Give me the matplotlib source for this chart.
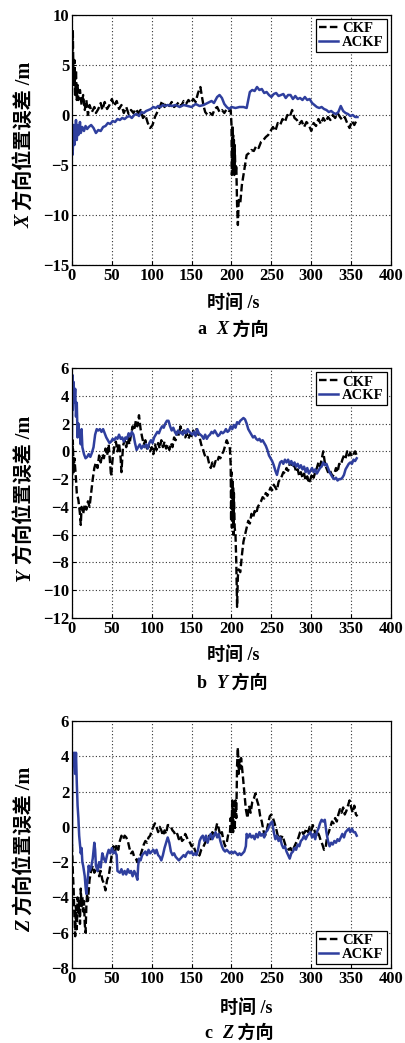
import matplotlib.pyplot as plt

plt.rcParams['font.family'] = ['Liberation Serif', 'Noto Sans CJK SC']

# ---------------------------------------------------------------------------
# data: (time [s], error [m])
# ---------------------------------------------------------------------------
x_ckf = [(0, 2), (1, 8.5), (2, 3), (3, 5.5), (4, 2), (5, 4.5), (6, 1.5), (7, 3), (8, 1.5), (10, 2.5),
         (12, 1), (14, 2), (16, 0.5), (18, 1.5), (20, 0), (22, 1), (25, 0.3), (28, 0.8), (30, 0.2), (33, 0.6),
         (36, 1.2), (38, 0.5), (41, 1.3), (44, 0.6), (47, 1), (50, 1.6), (53, 0.9), (56, 1.4), (59, 0.6), (62, 1),
         (65, 0.2), (68, 0.8), (71, 0.1), (74, 0.5), (77, 0.2), (80, 0.6), (83, 0.2), (86, 0.5), (89, -0.3), (92, 0),
         (95, -0.8), (98, -1.3), (101, -1), (104, -0.2), (107, 0.3), (110, 0.8), (113, 1.4), (116, 0.8), (119, 1.2),
         (122, 0.9), (125, 1.3), (128, 0.8), (131, 1), (134, 1.3), (137, 0.9), (140, 1.4), (143, 1.1), (146, 1.5),
         (149, 1.2), (152, 1.6), (155, 1.3), (158, 2.2), (161, 2.8), (163, 1.8), (165, 0.9), (167, 0.3), (170, 0),
         (173, 0.2), (176, 0), (179, 0.6), (182, 0.8), (185, 0.3), (188, 0.5), (191, 0.2), (194, 0.6), (197, 0.4),
         (199, 0.5), (200, -1), (200.5, -6), (201, -1), (201.5, -5.5), (202, -2), (202.5, -6), (203, -2.5),
         (203.5, -6), (204, -3), (205, -6), (206, -5), (207, -9), (208, -11), (209, -8.5), (211, -8.8), (213, -7),
         (215, -6), (217, -5), (219, -4), (222, -3.8), (225, -3.5), (228, -3.6), (231, -3.1), (234, -3.3),
         (237, -2.7), (240, -2.5), (243, -2.2), (246, -2), (249, -1.6), (252, -1.2), (255, -1.6), (258, -0.8),
         (261, -1), (264, -0.4), (267, -0.7), (270, 0), (273, -0.2), (276, 0.5), (279, -0.3), (282, -0.5),
         (285, -0.9), (288, -0.6), (291, -1.2), (294, -0.7), (297, -1), (300, -1.6), (303, -0.8), (306, -1.1),
         (309, -0.4), (312, -0.9), (315, -0.3), (318, -0.7), (321, -0.2), (324, -0.5), (327, 0), (330, -0.3),
         (333, 0.2), (336, -0.2), (339, -0.5), (342, -0.2), (345, -0.8), (348, -1.3), (351, -0.6), (354, -1),
         (357, -0.5)]

x_ackf = [(0, -1), (0.5, -4), (1, -3.5), (2, -1), (3, -3), (4, -2), (5, -0.5), (6, -2.5), (7, -1), (8, -2),
          (9, -1.5), (10, -0.7), (11, -1.8), (13, -1.2), (15, -1.6), (17, -1.1), (19, -1.4), (21, -1.2), (24, -1),
          (27, -1.3), (30, -1.8), (33, -1.5), (36, -1.6), (39, -1.2), (42, -1.1), (45, -0.8), (48, -0.9),
          (51, -0.6), (54, -0.7), (57, -0.4), (60, -0.5), (63, -0.3), (66, -0.4), (69, -0.2), (72, -0.1),
          (75, -0.3), (78, 0), (81, 0.1), (84, -0.1), (87, 0.3), (90, 0.2), (93, 0.4), (96, 0.5), (99, 0.6),
          (102, 0.8), (105, 0.7), (108, 0.9), (111, 0.8), (114, 1), (117, 0.9), (120, 1), (125, 0.9), (130, 1),
          (135, 0.8), (140, 1), (145, 0.9), (150, 0.8), (155, 1.1), (160, 0.9), (165, 1), (170, 1.2), (175, 1.4),
          (178, 1.2), (182, 1.8), (185, 2), (188, 1.7), (191, 1.1), (194, 0.8), (197, 0.6), (200, 0.8),
          (205, 0.7), (210, 0.8), (215, 0.8), (219, 0.7), (221, 1.5), (223, 2.3), (226, 2.5), (229, 2.4),
          (232, 2.8), (235, 2.5), (238, 2.6), (241, 2.2), (244, 2.3), (247, 2), (250, 1.8), (253, 2.1),
          (256, 2.2), (259, 1.9), (262, 2), (265, 2.1), (268, 1.7), (271, 2), (274, 2), (277, 1.6), (280, 1.9),
          (283, 1.6), (286, 1.7), (289, 1.5), (292, 1.8), (295, 1.5), (298, 1.6), (301, 1.2), (304, 1),
          (307, 0.8), (310, 0.7), (313, 0.8), (316, 0.6), (319, 0.5), (322, 0.3), (325, 0.4), (328, 0.2),
          (331, 0.1), (334, 0.3), (337, 0.9), (340, 0.4), (343, 0.2), (346, 0.1), (349, -0.1), (352, 0),
          (355, -0.2), (358, -0.2)]

y_ckf = [(0, -2.5), (1, 0.8), (2, -1.5), (3, -0.5), (4, -1.2), (5, -2), (6, -3), (8, -3.5), (10, -4.5),
         (11, -5.3), (12, -4), (14, -4.5), (16, -3.8), (18, -4.2), (20, -3.6), (22, -4), (24, -3), (26, -2),
         (28, -1.2), (30, -0.8), (32, -1.2), (34, -0.3), (36, -0.8), (38, -0.2), (40, -0.5), (42, 0.2),
         (44, -0.3), (46, 0.5), (48, -1), (49, -1.8), (51, -0.5), (53, 0.3), (55, 0.7), (57, 0), (59, 0.6),
         (61, -0.5), (62, -1.5), (64, 0.4), (66, 0.8), (68, 0.3), (70, 1), (72, 0.5), (74, 1.2), (76, 1.8),
         (78, 1.5), (80, 2.2), (82, 1.8), (84, 2.6), (86, 1.6), (88, 1), (90, 0.5), (92, 0.8), (94, 0.2),
         (96, 0.4), (98, 0), (100, 0.3), (102, -0.2), (104, 0.5), (106, 0.1), (108, 0.6), (110, 0.2), (112, 0.8),
         (114, 0.3), (116, 0.7), (118, 0.2), (120, 0.5), (122, 0.1), (124, 0.6), (126, 0.3), (128, 1), (130, 0.8),
         (132, 1.4), (134, 1.2), (136, 1.8), (138, 1.3), (140, 1.5), (142, 1), (144, 1.3), (146, 0.9), (148, 1.2),
         (150, 1.1), (152, 1.5), (154, 1.2), (156, 1.6), (158, 1.3), (160, 1), (162, 0.5), (164, 0.2),
         (166, -0.2), (168, -0.5), (170, -0.4), (172, -0.9), (174, -1.2), (176, -0.8), (178, -1.1), (180, -0.7),
         (182, -0.8), (184, -0.4), (186, -0.5), (188, -0.2), (190, 0), (192, 0.4), (194, 0.8), (196, 0.5),
         (198, 0.2), (199, -1), (199.5, -5), (200, -1.5), (200.5, -5.5), (201, -2), (201.5, -5), (202, -2.5),
         (202.5, -6), (203, -3), (204, -5.5), (205, -6), (206, -8), (207, -11.2), (208, -9), (209, -8.5),
         (211, -8.7), (213, -7.5), (215, -6.5), (217, -6), (219, -5.5), (221, -5), (223, -5.2), (225, -4.5),
         (227, -4.8), (229, -4.3), (231, -4.5), (233, -4), (235, -3.8), (237, -3.6), (239, -3.3), (241, -3.4),
         (243, -3), (245, -3.2), (247, -2.9), (249, -2.6), (251, -2.8), (253, -2.4), (255, -2.6), (257, -2.8),
         (259, -2.2), (261, -2), (263, -1.8), (265, -1.5), (267, -1.6), (269, -1.2), (271, -1.4), (273, -0.9),
         (275, -0.8), (277, -1.2), (279, -1), (281, -1.5), (283, -1.3), (285, -1.8), (287, -1.5), (289, -1.9),
         (291, -1.6), (293, -2.1), (295, -1.8), (297, -2.3), (299, -2), (301, -1.6), (303, -1.9), (305, -1.5),
         (307, -1.2), (309, -0.8), (311, -1.1), (313, -0.6), (315, 0), (317, -0.8), (319, -1.2), (321, -1.5),
         (323, -1.3), (325, -1.6), (327, -1.8), (329, -1.6), (331, -1.2), (333, -1.5), (335, -0.9), (337, -1),
         (339, -0.6), (341, -0.3), (343, -0.5), (345, 0), (347, -0.3), (349, -0.1), (351, -0.4), (353, -0.2),
         (355, 0), (357, -0.3)]

y_ackf = [(0, 1), (0.5, 5.5), (1, 3), (2, 5), (3, 3.5), (4, 4.5), (5, 2.5), (6, 3.5), (7, 1), (8, 2),
          (9, 1.2), (10, 1.5), (11, 0.5), (12, 1.6), (13, 0.3), (15, -0.2), (17, -0.5), (19, -0.4), (21, -0.2),
          (23, -0.4), (25, -0.1), (27, 0.3), (29, 1.2), (31, 1.6), (33, 1.5), (35, 1.6), (37, 1.4), (39, 1.6),
          (41, 1.3), (43, 1), (45, 0.8), (47, 0.6), (49, 0.7), (51, 0.9), (53, 0.8), (55, 1), (57, 0.9),
          (59, 1.2), (61, 0.9), (63, 1), (65, 0.7), (67, 1), (69, 0.9), (71, 1.3), (73, 1.1), (75, 1.4),
          (77, 1.2), (79, 0.6), (81, 0.1), (83, 0.3), (85, 0.5), (87, 0.2), (89, 0.4), (91, 0.3), (93, 0.5),
          (95, 0.2), (97, 0.6), (99, 0.8), (101, 0.6), (103, 1), (105, 1.2), (107, 1.4), (109, 1.3), (111, 1.6),
          (113, 1.8), (115, 1.7), (117, 2), (119, 2.2), (121, 2.2), (123, 1.8), (125, 1.5), (127, 1.7),
          (129, 1.4), (131, 1.2), (133, 1.5), (135, 1.3), (137, 1.4), (139, 1.2), (141, 1.5), (143, 1.3),
          (145, 1.6), (147, 1.4), (149, 1.3), (151, 1.2), (153, 1.4), (155, 1.1), (157, 1.6), (159, 1.3),
          (161, 1.2), (163, 1.1), (165, 0.9), (167, 1.2), (169, 0.9), (171, 1.1), (173, 1.2), (175, 1.4),
          (177, 1.3), (179, 1.5), (181, 1.3), (183, 1.1), (185, 1.2), (187, 1.4), (189, 1.3), (191, 1.4),
          (193, 1.6), (195, 1.4), (197, 1.5), (199, 1.8), (201, 1.6), (203, 1.9), (205, 1.7), (207, 2.1),
          (209, 2), (211, 2.2), (213, 2.3), (215, 2.4), (217, 2.3), (219, 2), (221, 1.6), (223, 1.4), (225, 1.2),
          (227, 1.0), (229, 1.1), (231, 0.9), (233, 0.8), (235, 0.9), (237, 0.7), (239, 0.8), (241, 0.6),
          (243, 0.4), (245, 0.1), (247, -0.3), (249, -0.5), (251, -0.7), (253, -1), (255, -1.4), (257, -1.7),
          (259, -1.2), (261, -0.8), (263, -0.7), (265, -0.9), (267, -0.6), (269, -0.8), (271, -0.6), (273, -0.9),
          (275, -0.7), (277, -1), (279, -0.8), (281, -1.1), (283, -0.9), (285, -1.2), (287, -1), (289, -1.3),
          (291, -1.1), (293, -1.5), (295, -1.2), (297, -1.6), (299, -1.4), (301, -1.2), (303, -1.5), (305, -1.3),
          (307, -1.6), (309, -1.4), (311, -1.2), (313, -1.1), (315, -0.8), (317, -1), (319, -0.9), (321, -1.2),
          (323, -1.5), (325, -1.7), (327, -1.9), (329, -2), (331, -1.9), (333, -2.1), (335, -2), (337, -2),
          (339, -1.9), (341, -1.7), (343, -1.3), (345, -1.1), (347, -0.9), (349, -0.8), (351, -0.9), (353, -0.6),
          (355, -0.7), (357, -0.5)]

z_ckf = [(0, -1), (1, -2.5), (2, -3.5), (3, -5), (4, -6.2), (5, -4.5), (6, -5.8), (7, -4), (8, -5), (9, -4.2),
         (10, -5.5), (11, -3.5), (12, -4.5), (13, -4), (14, -4.8), (15, -4.2), (16, -5.5), (17, -6), (18, -4.5),
         (19, -3.8), (20, -4.2), (22, -3), (24, -2.5), (26, -2.2), (28, -2.6), (30, -2.4), (32, -2.2),
         (34, -2.8), (36, -2.5), (38, -3), (40, -3.2), (42, -3.6), (44, -3), (46, -2.8), (48, -2.2), (50, -1.5),
         (52, -1.1), (54, -1.4), (56, -1), (58, -1.3), (60, -0.8), (62, -0.5), (64, -0.7), (66, -0.5),
         (68, -0.6), (70, -0.8), (72, -1.2), (74, -1.5), (76, -1.4), (78, -1.7), (80, -1.8), (82, -2),
         (84, -1.7), (86, -1.6), (88, -1.3), (90, -1), (92, -0.8), (94, -0.9), (96, -0.6), (98, -0.5),
         (100, -0.2), (102, 0), (104, 0.2), (106, 0), (108, -0.3), (110, 0), (112, -0.2), (114, -0.5),
         (116, -0.2), (118, -0.4), (120, 0.1), (122, 0.1), (124, 0), (126, -0.2), (128, -0.3), (130, -0.5),
         (132, -0.4), (134, -0.7), (136, -0.5), (138, -0.8), (140, -0.7), (142, -0.4), (144, -0.6), (146, -0.8),
         (148, -0.9), (150, -1.1), (152, -1), (154, -1.3), (156, -1.5), (158, -1.7), (160, -1.6), (162, -1.3),
         (164, -1.2), (166, -1), (168, -0.8), (170, -0.7), (172, -0.5), (174, -0.7), (176, -0.3), (178, -0.5),
         (180, -0.2), (182, 0.2), (184, -0.1), (186, -0.5), (188, -0.3), (190, -0.8), (192, -1.1), (194, -0.9),
         (196, -0.4), (198, -0.4), (199, 0.5), (200, -0.3), (201, 1.5), (202, -0.3), (203, 1.4), (204, -0.2),
         (205, 1.5), (206, 0.5), (207, 3.5), (208, 4.5), (209, 3), (210, 3.8), (211, 3.3), (212, 3.9), (214, 3),
         (216, 2), (218, 1), (220, 0.5), (222, 1.2), (224, 0.8), (226, 1.4), (228, 1.6), (230, 1.9), (232, 1.5),
         (234, 1.2), (236, 0.6), (238, 0.3), (240, -0.2), (242, -0.5), (244, -0.3), (246, 0.2), (248, 0.6),
         (250, 0.7), (252, 0.5), (254, 0.2), (256, -0.1), (258, -0.5), (260, -0.4), (262, -0.7), (264, -0.5),
         (266, -0.8), (268, -1.1), (270, -1.2), (272, -1.3), (274, -1.2), (276, -1.4), (278, -1.2), (280, -1),
         (282, -0.8), (284, -0.6), (286, -0.3), (288, -0.2), (290, -0.4), (292, -0.3), (294, -0.1), (296, -0.3),
         (298, 0), (300, -0.2), (302, 0.1), (304, -0.2), (306, -0.5), (308, -0.3), (310, -0.5), (312, -0.8),
         (314, -1), (316, -1.3), (318, -1.2), (320, -0.5), (322, -0.3), (324, 0), (326, 0.3), (328, 0.2),
         (330, 0.5), (332, 0.3), (334, 0.7), (336, 1), (338, 0.8), (340, 1.1), (342, 0.7), (344, 0.9),
         (346, 1.2), (348, 1.5), (350, 1.1), (352, 0.8), (354, 1.2), (356, 0.7), (358, 0.6)]

z_ackf = [(0, -1), (0.5, 3.5), (1, 4.2), (2, 3.5), (3, 4.2), (4, 3), (5, 4.2), (6, 2.5), (7, 1.2), (8, 0.5),
          (9, -0.5), (10, -1), (11, -1.5), (12, -1.2), (13, -2), (14, -2.2), (15, -2.5), (16, -2.8), (17, -3.4),
          (18, -3.8), (19, -3.2), (20, -2.8), (21, -2.2), (22, -2.5), (24, -2.3), (26, -1.8), (28, -0.9),
          (29, -1.3), (30, -2.2), (32, -2.5), (34, -2), (36, -2.3), (38, -1.5), (40, -1.8), (42, -2), (44, -1.6),
          (46, -1.3), (48, -1.5), (50, -1.2), (52, -1.5), (54, -1.4), (56, -1.6), (57, -2.5), (60, -2.6),
          (62, -2.4), (64, -2.7), (66, -2.5), (68, -2.7), (70, -2.4), (72, -2.6), (74, -2.5), (76, -2.8),
          (78, -2.5), (80, -2.7), (82, -3), (83, -2.2), (84, -1.8), (86, -1.9), (88, -1.6), (90, -1.5),
          (92, -1.4), (94, -1.6), (96, -1.3), (98, -1.5), (100, -1.4), (102, -1.3), (104, -1.5), (106, -1.3),
          (108, -1.6), (110, -1.7), (112, -1.9), (114, -1.6), (116, -1.2), (118, -0.9), (120, -0.6), (122, -0.9),
          (124, -1.4), (126, -1.6), (128, -1.5), (130, -1.7), (132, -1.8), (134, -1.9), (136, -1.8), (138, -1.7),
          (140, -1.6), (142, -1.7), (144, -1.5), (146, -1.4), (148, -1.5), (150, -1.4), (152, -1.6), (154, -1.5),
          (156, -1.6), (158, -1.3), (160, -0.8), (162, -0.6), (164, -0.5), (166, -0.8), (168, -0.5), (170, -0.9),
          (172, -0.6), (174, -0.4), (176, -0.7), (178, -0.5), (180, -0.3), (182, -0.6), (184, -0.4), (186, -0.8),
          (188, -1.1), (190, -1.3), (192, -1.4), (194, -1.3), (196, -1.4), (198, -1.5), (200, -1.4), (202, -1.5),
          (204, -1.4), (206, -1.5), (208, -1.6), (210, -1.5), (212, -1.6), (214, -1.5), (216, -1.4), (218, -1.1),
          (219, -0.4), (221, -0.6), (223, -0.4), (225, -0.6), (227, -0.5), (229, -0.7), (231, -0.4), (233, -0.6),
          (235, -0.3), (237, -0.5), (239, -0.4), (241, -0.6), (243, -0.3), (245, -0.2), (247, 0), (249, 0.2),
          (251, 0.3), (253, -0.3), (255, -0.7), (257, -0.5), (259, -0.8), (261, -0.6), (263, -1), (265, -1.2),
          (267, -1.1), (269, -1.4), (271, -1.6), (273, -1.8), (275, -1.5), (277, -1.4), (279, -1.2), (281, -1.3),
          (283, -1), (285, -1.1), (287, -0.8), (289, -0.7), (291, -0.5), (293, -0.7), (295, -0.5), (297, -0.4),
          (299, -0.3), (301, -0.6), (303, -0.4), (305, -0.7), (307, -0.3), (309, -0.1), (311, 0.2), (313, 0.4),
          (315, 0.3), (317, 0.4), (319, -0.3), (321, -0.8), (323, -1.1), (325, -0.9), (327, -1), (329, -0.8),
          (331, -0.9), (333, -0.7), (335, -0.8), (337, -0.6), (339, -0.4), (341, -0.6), (343, -0.3), (345, -0.2),
          (347, -0.1), (349, -0.3), (351, -0.1), (353, -0.3), (355, -0.3), (357, -0.5)]

axis_names = ['X', 'Y', 'Z']
captions = ['a', 'b', 'c']
y_limits = [(-15, 10), (-12, 6), (-8, 6)]
y_steps = [5, 2, 2]
legend_locs = ['upper right', 'upper right', 'lower right']
x_ticks = [0, 50, 100, 150, 200, 250, 300, 350, 400]

BLUE = '#2f3f9e'
H = 1043.0
W = 406.0
# layout in pixels of the reference
boxes = [(15, 265), (368, 618), (721, 968)]     # axes top, bottom
xlabel_pos = [(233, 303), (233, 655), (246, 1008)]
caption_pos = [(222, 330), (222, 683), (228, 1033)]  # centre of the italic letter

fig = plt.figure(figsize=(W / 100, H / 100), dpi=100)
serif_b = {'family': ['Liberation Serif', 'Noto Sans CJK SC'], 'weight': 'bold'}


def fx(px):
    return px / W


def fy(py):
    return 1 - py / H


for i in range(3):
    ckf = [x_ckf, y_ckf, z_ckf][i]
    ackf = [x_ackf, y_ackf, z_ackf][i]
    top, bot = boxes[i]
    ax = fig.add_axes([fx(72), fy(bot), (391 - 72) / W, (bot - top) / H])

    ax.plot([p[0] for p in ckf], [p[1] for p in ckf], color='black', ls=(0, (3.2, 1.4)), lw=1.7, label='CKF')
    ax.plot([p[0] for p in ackf], [p[1] for p in ackf], color=BLUE, lw=1.8, label='ACKF')

    lo, hi = y_limits[i]
    ax.set_xlim(0, 400)
    ax.set_ylim(lo, hi)
    ax.set_xticks(x_ticks)
    ax.set_yticks(range(lo, hi + 1, y_steps[i]))
    ax.set_yticklabels([str(v).replace('-', '\u2212') for v in range(lo, hi + 1, y_steps[i])])
    ax.grid(True, color='#333333', ls=(0, (1, 2)), lw=0.8)
    ax.tick_params(direction='in', length=3, labelsize=12, pad=2)
    for lab in ax.get_xticklabels() + ax.get_yticklabels():
        lab.set_fontweight('bold')
    for sp in ax.spines.values():
        sp.set_linewidth(0.9)

    leg = ax.legend(loc=legend_locs[i], fancybox=False, edgecolor='black', framealpha=1,
                    handlelength=1.3, handletextpad=0.3, borderpad=0.2, labelspacing=0.05,
                    borderaxespad=0.3, prop={'family': 'Liberation Serif', 'weight': 'bold', 'size': 10.5})
    leg.get_frame().set_linewidth(0.9)

    # y label: italic axis letter, then the chinese part stacked above it
    yc = (top + bot) / 2
    t1 = fig.text(fx(25), fy(yc + 88), axis_names[i], rotation=90, ha='center', va='bottom',
                  fontsize=14.5, style='italic', **serif_b)
    ax.annotate(' 方向位置误差 /m', xy=(0.5, 1), xycoords=t1, rotation=90, ha='center', va='bottom',
                fontsize=14.5, annotation_clip=False, **serif_b)

    # x label
    fig.text(fx(xlabel_pos[i][0]), fy(xlabel_pos[i][1]), '时间 /s', ha='center', va='center',
             fontsize=13, **serif_b)

    # caption: "a  X 方向"
    cx, cy = caption_pos[i]
    t2 = fig.text(fx(cx), fy(cy), axis_names[i], ha='center', va='center', fontsize=13,
                  style='italic', **serif_b)
    ax.annotate(captions[i] + '  ', xy=(0, 0), xycoords=t2, ha='right', va='bottom', fontsize=13,
                annotation_clip=False, **serif_b)
    ax.annotate(' 方向', xy=(1, 0), xycoords=t2, ha='left', va='bottom', fontsize=13,
                annotation_clip=False, **serif_b)

fig.savefig('out.png', dpi=100)
